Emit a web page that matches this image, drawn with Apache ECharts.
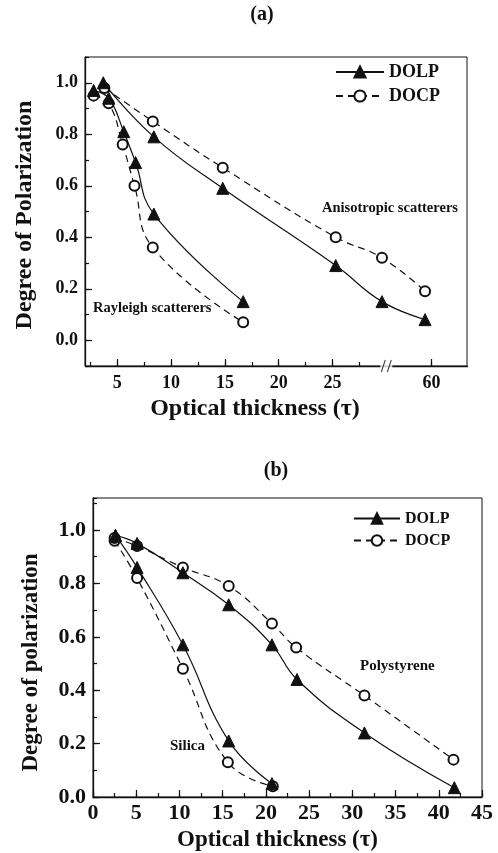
<!DOCTYPE html>
<html><head><meta charset="utf-8">
<script src="https://cdn.jsdelivr.net/npm/echarts@6/dist/echarts.min.js"></script>
<style>html,body{margin:0;padding:0;background:#fff}#c{width:498px;height:853px}</style>
</head><body><div id="c"></div>
<script>
const FONT = '"Liberation Serif", "Times New Roman", serif';
const INK = '#111';

// ---------- Panel (a) ----------
const tauRayDOLP = [2.8, 4.2, 5.6, 6.7, 8.4, 16.7];
const valRayDOLP = [0.97, 0.94, 0.81, 0.69, 0.49, 0.15];
const tauRayDOCP = [2.8, 4.2, 5.5, 6.6, 8.3, 16.7];
const valRayDOCP = [0.95, 0.92, 0.76, 0.60, 0.36, 0.07];
const tauAniDOLP = [3.7, 8.4, 14.8, 25.3, 29.6, 59.4];
const valAniDOLP = [1.00, 0.79, 0.59, 0.29, 0.15, 0.08];
const tauAniDOCP = [3.8, 8.3, 14.8, 25.3, 29.6, 59.4];
const valAniDOCP = [0.98, 0.85, 0.67, 0.40, 0.32, 0.19];
const xLabelsA = [5, 10, 15, 20, 25, 60];
const xTicksA = [2.5, 5, 7.5, 10, 12.5, 15, 17.5, 20, 22.5, 25, 27.5, 60];
const yMajorA = [0, 0.2, 0.4, 0.6, 0.8, 1.0];

// ---------- Panel (b) ----------
const tauSilDOLP = [2.6, 5.1, 10.4, 15.7, 20.7];
const valSilDOLP = [0.98, 0.86, 0.57, 0.21, 0.05];
const tauSilDOCP = [2.5, 5.1, 10.4, 15.6, 20.8];
const valSilDOCP = [0.96, 0.82, 0.48, 0.13, 0.04];
const tauPolDOLP = [2.6, 5.1, 10.4, 15.7, 20.7, 23.6, 31.4, 41.8];
const valPolDOLP = [0.98, 0.95, 0.84, 0.72, 0.57, 0.44, 0.24, 0.035];
const tauPolDOCP = [2.5, 5.1, 10.4, 15.7, 20.7, 23.5, 31.4, 41.7];
const valPolDOCP = [0.97, 0.94, 0.86, 0.79, 0.65, 0.56, 0.38, 0.14];
const xMajorB = [0, 5, 10, 15, 20, 25, 30, 35, 40, 45];
const yMajorB = [0, 0.2, 0.4, 0.6, 0.8, 1.0];

const zip = (a, b) => a.map((v, i) => [v, b[i]]);

function lineSeries(name, tau, val, xi, yi) {
  const dolp = name === 'DOLP';
  return {
    type: 'line', name, xAxisIndex: xi, yAxisIndex: yi,
    data: zip(tau, val), smooth: 0.45,
    symbol: dolp ? 'triangle' : 'emptyCircle',
    symbolSize: dolp ? 12 : 10,
    itemStyle: { color: INK, borderColor: INK, borderWidth: 1 },
    lineStyle: { color: INK, width: 1.2, type: dolp ? 'solid' : [7, 5] },
    z: dolp ? 3 : 2
  };
}

const yFmt = v => { const n = Math.round(v * 10); return (Math.abs(v * 10 - n) < 1e-6 && n >= 0 && n <= 10 && n % 2 === 0) ? (n / 10).toFixed(1) : ''; };
const xFmtB = v => { const n = Math.round(v * 2); return (Math.abs(v * 2 - n) < 1e-6 && n % 2 === 0) ? String(n / 2) : ''; };

const lbl = (size) => ({ fontFamily: FONT, fontWeight: 'bold', fontSize: size, color: INK });
const axLine = { show: true, onZero: false, lineStyle: { color: INK, width: 1.3 } };
const breaksA = [{ start: 30, end: 55.8, gap: 0 }];
const tickStyle = { color: INK, width: 1.2 };
const MINOR = 4, MAJOR = 7;

const option = {
  animation: false,
  backgroundColor: '#fff',
  grid: [
    { left: 85, top: 57, width: 382, height: 309, show: true, borderColor: INK, borderWidth: 1, containLabel: false },
    { left: 93, top: 498, width: 389, height: 300, show: true, borderColor: INK, borderWidth: 1, containLabel: false }
  ],
  xAxis: [
    { gridIndex: 0, type: 'value', position: 'bottom', min: 2, max: 63.3, breaks: breaksA, breakArea: { show: false },
      axisLine: axLine, splitLine: { show: false },
      axisTick: { show: true, inside: true, length: MINOR, lineStyle: tickStyle, customValues: xTicksA },
      axisLabel: Object.assign({ customValues: xLabelsA, margin: 8 }, lbl(18)),
      name: 'Optical thickness (τ)', nameLocation: 'middle', nameGap: 31,
      nameTextStyle: Object.assign({ padding: [0, 42, 0, 0] }, lbl(24)) },
    { gridIndex: 0, type: 'value', position: 'bottom', min: 2, max: 63.3, breaks: breaksA, breakArea: { show: false },
      axisLine: { show: false, onZero: false }, splitLine: { show: false },
      axisTick: { show: true, inside: true, length: MAJOR, lineStyle: tickStyle, customValues: xLabelsA },
      axisLabel: { show: false } },
    { gridIndex: 1, type: 'value', position: 'bottom', min: 0, max: 45, interval: 2.5,
      axisLine: axLine, splitLine: { show: false },
      axisTick: { show: true, inside: true, length: MINOR, lineStyle: tickStyle },
      axisLabel: Object.assign({ formatter: xFmtB, margin: 5, showMaxLabel: true, showMinLabel: true }, lbl(22)),
      name: 'Optical thickness (τ)', nameLocation: 'middle', nameGap: 32,
      nameTextStyle: Object.assign({ padding: [0, 20, 0, 0] }, lbl(23)) },
    { gridIndex: 1, type: 'value', position: 'bottom', min: 0, max: 45,
      axisLine: { show: false, onZero: false }, splitLine: { show: false },
      axisTick: { show: true, inside: true, length: MAJOR, lineStyle: tickStyle, customValues: xMajorB },
      axisLabel: { show: false } }
  ],
  yAxis: [
    { gridIndex: 0, type: 'value', position: 'left', min: -0.1, max: 1.1, interval: 0.1,
      axisLine: axLine, splitLine: { show: false },
      axisTick: { show: true, inside: true, length: MINOR, lineStyle: tickStyle },
      axisLabel: Object.assign({ formatter: yFmt, margin: 7 }, lbl(18)),
      name: 'Degree of Polarization', nameLocation: 'middle', nameGap: 48,
      nameTextStyle: Object.assign({ padding: [0, 7, 0, 0] }, lbl(24)) },
    { gridIndex: 0, type: 'value', position: 'left', min: -0.1, max: 1.1,
      axisLine: { show: false, onZero: false }, splitLine: { show: false },
      axisTick: { show: true, inside: true, length: MAJOR, lineStyle: tickStyle, customValues: yMajorA },
      axisLabel: { show: false } },
    { gridIndex: 1, type: 'value', position: 'left', min: 0, max: 1.12, interval: 0.1,
      axisLine: axLine, splitLine: { show: false },
      axisTick: { show: true, inside: true, length: MINOR, lineStyle: tickStyle },
      axisLabel: Object.assign({ formatter: yFmt, margin: 7 }, lbl(22)),
      name: 'Degree of polarization', nameLocation: 'middle', nameGap: 50,
      nameTextStyle: Object.assign({ padding: [0, 30, 0, 0] }, lbl(23)) },
    { gridIndex: 1, type: 'value', position: 'left', min: 0, max: 1.12,
      axisLine: { show: false, onZero: false }, splitLine: { show: false },
      axisTick: { show: true, inside: true, length: MAJOR, lineStyle: tickStyle, customValues: yMajorB },
      axisLabel: { show: false } }
  ],
  legend: [
    { orient: 'vertical', left: 335, top: 63, padding: 0, itemWidth: 48, itemHeight: 14, itemGap: 6,
      data: ['DOLP', 'DOCP'], textStyle: Object.assign({ lineHeight: 18 }, lbl(18)), inactiveColor: INK, selectedMode: false },
    { orient: 'vertical', left: 353, top: 510, padding: 0, itemWidth: 46, itemHeight: 13, itemGap: 5,
      data: ['DOLP', 'DOCP'], textStyle: Object.assign({ lineHeight: 17 }, lbl(16)), inactiveColor: INK, selectedMode: false }
  ],
  graphic: [
    { type: 'text', x: 262, y: 15, style: { text: '(a)', font: 'bold 20px ' + FONT, fill: INK, align: 'center', verticalAlign: 'middle' } },
    { type: 'text', x: 276, y: 471, style: { text: '(b)', font: 'bold 20px ' + FONT, fill: INK, align: 'center', verticalAlign: 'middle' } },
    { type: 'text', x: 322, y: 208, style: { text: 'Anisotropic scatterers', font: 'bold 14.5px ' + FONT, fill: INK, align: 'left', verticalAlign: 'middle' } },
    { type: 'text', x: 93, y: 308, style: { text: 'Rayleigh scatterers', font: 'bold 14.5px ' + FONT, fill: INK, align: 'left', verticalAlign: 'middle' } },
    { type: 'text', x: 360, y: 666, style: { text: 'Polystyrene', font: 'bold 15px ' + FONT, fill: INK, align: 'left', verticalAlign: 'middle' } },
    { type: 'text', x: 170, y: 746, style: { text: 'Silica', font: 'bold 15px ' + FONT, fill: INK, align: 'left', verticalAlign: 'middle' } }
  ],
  series: [
    lineSeries('DOLP', tauRayDOLP, valRayDOLP, 0, 0),
    lineSeries('DOCP', tauRayDOCP, valRayDOCP, 0, 0),
    lineSeries('DOLP', tauAniDOLP, valAniDOLP, 0, 0),
    lineSeries('DOCP', tauAniDOCP, valAniDOCP, 0, 0),
    lineSeries('DOLP', tauSilDOLP, valSilDOLP, 2, 2),
    lineSeries('DOCP', tauSilDOCP, valSilDOCP, 2, 2),
    lineSeries('DOLP', tauPolDOLP, valPolDOLP, 2, 2),
    lineSeries('DOCP', tauPolDOCP, valPolDOCP, 2, 2),
    { type: 'scatter', name: 'break-gap', xAxisIndex: 0, yAxisIndex: 0, data: [[30, -0.1]], clip: false, silent: true,
      symbol: 'rect', symbolSize: [12, 6], itemStyle: { color: '#fff' }, z: 5 },
    { type: 'scatter', name: 'break-mark', xAxisIndex: 0, yAxisIndex: 0, data: [[30, -0.1]], clip: false, silent: true,
      symbol: 'path://M0,12L4,0M6,12L10,0', symbolSize: [10, 12], itemStyle: { color: 'rgba(0,0,0,0)', borderColor: INK, borderWidth: 1.2 }, z: 6 }
  ]
};

const chart = echarts.init(document.getElementById('c'), null, { renderer: 'canvas' });
chart.setOption(option);
</script>
</body></html>
